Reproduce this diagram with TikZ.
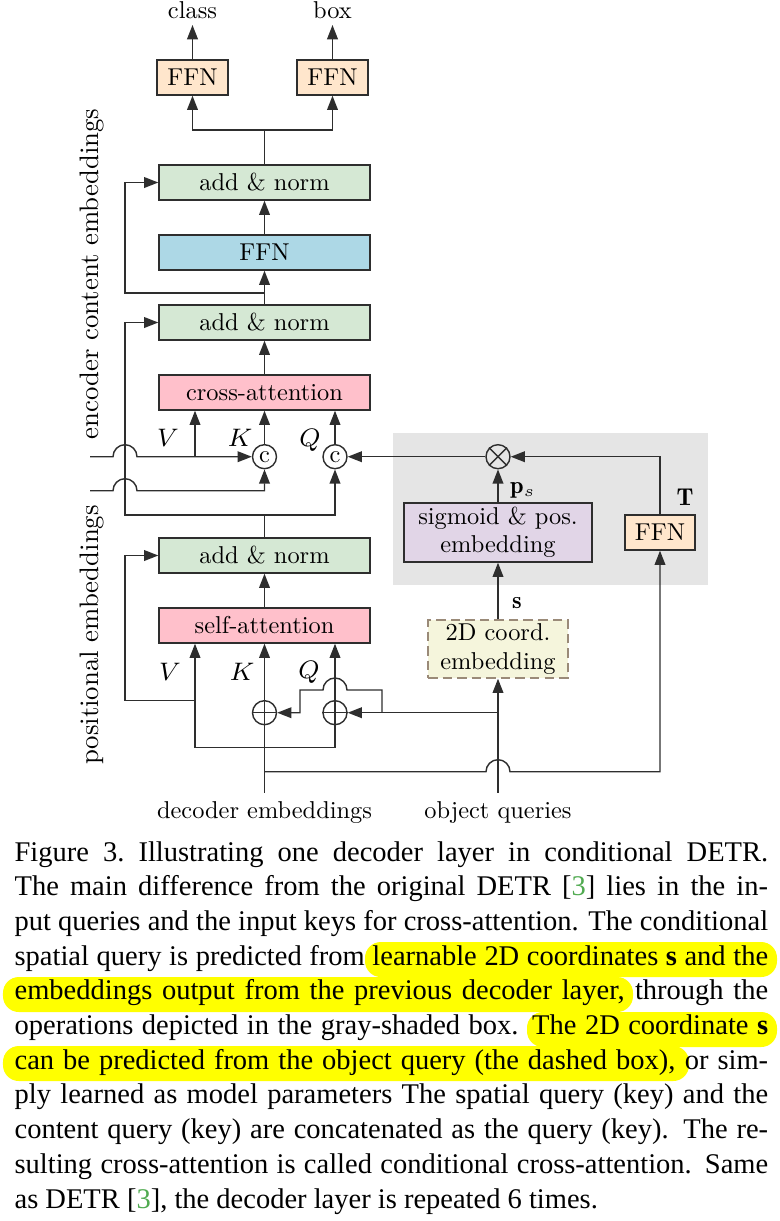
\documentclass[tikz,border=0pt]{standalone}
\usepackage{fontspec}
\newfontfamily\capfont{Liberation Serif}
\newfontfamily\lmten{lmroman10-regular.otf}
\usetikzlibrary{arrows.meta}
\definecolor{cpeach}{HTML}{FFE6CC}
\definecolor{cgreen}{HTML}{D5E8D4}
\definecolor{cblue}{HTML}{ADD8E6}
\definecolor{cpink}{HTML}{FFC0CB}
\definecolor{clav}{HTML}{E1D5E7}
\definecolor{cbeige}{HTML}{F5F5DC}
\definecolor{cdash}{HTML}{9A8A78}
\definecolor{graybg}{HTML}{E5E5E5}
\definecolor{hl}{HTML}{FFFF00}
\definecolor{citeg}{RGB}{80,170,80}
\definecolor{lncol}{HTML}{2E2E2E}
\newcommand\dgmfont{\lmten\fontsize{7.7}{9}\selectfont}
\newcommand\rotfont{\lmten\fontsize{8.45}{10}\selectfont}
\def\pxu{0.3158pt}
\def\capw{237.96pt}
\begin{document}
\begin{tikzpicture}[x=0.3158pt,y=-0.3158pt,
  box/.style={draw=lncol, line width=0.45pt, inner sep=0pt, minimum height=35*\pxu, font=\dgmfont},
  wide/.style={box, minimum width=211*\pxu},
  lbl/.style={inner sep=1pt, font=\dgmfont},
  ln/.style={draw=lncol, line width=0.45pt},
  arr/.style={ln, -{Triangle[length=4.5pt,width=3.4pt]}},
  op/.style={circle, draw=lncol, line width=0.45pt, minimum size=24*\pxu, inner sep=0pt, font=\dgmfont},
  capl/.style={anchor=base west, inner sep=0pt, font=\capfont\fontsize{9}{11}\selectfont},
  hlbox/.style={fill=hl, rounded corners=5pt}
]
\useasboundingbox (0,0) rectangle (780,1221);
% gray shaded region
\fill[graybg] (393,433) rectangle (708,585);
% caption highlights
\fill[hlbox] (365,942) rectangle (777,977);
\fill[hlbox] (3,977) rectangle (633,1012);
\fill[hlbox] (527,1012) rectangle (777,1047);
\fill[hlbox] (3,1046) rectangle (689,1081);

% boxes
\node[box, fill=cpeach, minimum width=71*\pxu] (ffnC) at (192.5,77.5) {FFN};
\node[box, fill=cpeach, minimum width=71*\pxu] (ffnB) at (332.5,77.5) {FFN};
\node[lbl, anchor=south, inner ysep=1.9pt] (cls) at (192.5,25) {class};
\node[lbl, anchor=south, inner ysep=1.9pt] (bx) at (332.5,25) {box};
\node[wide, fill=cgreen] (an1) at (264.5,182.5) {add \& norm};
\node[wide, fill=cblue] (ffn) at (264.5,252.5) {FFN};
\node[wide, fill=cgreen] (an2) at (264.5,322.5) {add \& norm};
\node[wide, fill=cpink] (ca) at (264.5,392.5) {cross-attention};
\node[wide, fill=cgreen] (an3) at (264.5,555.5) {add \& norm};
\node[wide, fill=cpink] (sa) at (264.5,625.5) {self-attention};
\node[box, fill=clav, minimum width=188*\pxu, minimum height=59*\pxu, align=center] (sig) at (498,532.5) {sigmoid \& pos.\\embedding};
\node[box, fill=cpeach, minimum width=70*\pxu] (ffnT) at (660,532.5) {FFN};
\node[box, fill=cbeige, draw=cdash, dash pattern=on 3pt off 1.6pt, minimum width=140*\pxu, minimum height=58*\pxu, align=center] (crd) at (498,649) {2D coord.\\embedding};

% operators
\node[op] (cK) at (264.5,456.7) {c};
\node[op] (cQ) at (335,456.7) {c};
\node[op] (ot) at (498,456.7) {};
\node[op] (pK) at (264.5,712.7) {};
\node[op] (pQ) at (335,712.7) {};
\draw[ln] (ot.north west) -- (ot.south east) (ot.north east) -- (ot.south west);
\draw[ln] (pK.north) -- (pK.south) (pK.west) -- (pK.east);
\draw[ln] (pQ.north) -- (pQ.south) (pQ.west) -- (pQ.east);

% labels
\node[lbl] (lV1) at (168,438) {$V$};
\node[lbl] (lK1) at (240,438) {$K$};
\node[lbl] (lQ1) at (310,440) {$Q$};
\node[lbl] (lV2) at (170,672) {$V$};
\node[lbl] (lK2) at (242,672) {$K$};
\node[lbl] (lQ2) at (309,672) {$Q$};
\node[lbl] (lps) at (523,490) {$\mathbf{p}_s$};
\node[lbl] (lT) at (685,497) {$\mathbf{T}$};
\node[lbl] (ls) at (517,603) {$\mathbf{s}$};
\node[inner sep=0pt, font=\rotfont, rotate=90, anchor=base] (enc) at (98,274) {encoder content embeddings};
\node[inner sep=0pt, font=\rotfont, rotate=90, anchor=base] (pos) at (98,635) {positional embeddings};
\node[lbl, anchor=base, inner sep=2.5pt] (dec) at (264.5,818) {decoder embeddings};
\node[lbl, anchor=base, inner sep=2.5pt] (oq) at (498,818) {object queries};

% coordinates
\coordinate (xl) at (125,0);
\coordinate (vx) at (195,0);
\coordinate (jt) at (264.5,130);
\coordinate (r1) at (264.5,293);
\coordinate (jq) at (264.5,515);
\coordinate (vin) at (90,456.7);
\coordinate (kin) at (90,490.7);
\coordinate (rv) at (195,700.7);
\coordinate (jd) at (264.5,747.7);
\coordinate (jT) at (264.5,771.7);
\coordinate (jo) at (498,712.7);

% connectors
\draw[arr] (ffnC.north) -- (cls.south);
\draw[arr] (ffnB.north) -- (bx.south);
\draw[ln] (an1.north) -- (jt);
\draw[arr] (jt) -| (ffnC.south);
\draw[arr] (jt) -| (ffnB.south);
\draw[arr] (ffn.north) -- (an1.south);
\draw[arr] (an2.north) -- (ffn.south);
\draw[arr] (r1) -- (r1 -| xl) |- (an1.west);
\draw[arr] (ca.north) -- (an2.south);
\draw[arr] (cK.north) -- (cK |- ca.south);
\draw[arr] (cQ.north) -- (cQ |- ca.south);
\draw[arr] (vin) -- ++(23,0) arc[start angle=180,end angle=360,radius=12] -- (cK.west);
\draw[arr] (vin -| vx) -- (vx |- ca.south);
\draw[arr] (kin) -- ++(23,0) arc[start angle=180,end angle=360,radius=12] -- (kin -| cK) -- (cK.south);
\draw[ln] (an3.north) -- (jq);
\draw[arr] (jq) -| (cQ.south);
\draw[arr] (jq) -- (jq -| xl) |- (an2.west);
\draw[arr] (ot.west) -- (cQ.east);
\draw[arr] (ffnT.north) |- (ot.east);
\draw[arr] (sig.north) -- (ot.south);
\draw[arr] (crd.north) -- (sig.south);
\draw[arr] (sa.north) -- (an3.south);
\draw[arr] (pK.north) -- (pK |- sa.south);
\draw[arr] (pQ.north) -- (pQ |- sa.south);
\draw[ln] (dec.north) -- (pK.south);
\draw[arr] (pQ.south) -- (pQ |- jd) -- (jd -| vx) -- (vx |- sa.south);
\draw[arr] (rv) -- (rv -| xl) |- (an3.west);
\draw[arr] (jT) -- (486,771.7) arc[start angle=180,end angle=360,radius=12] -| (ffnT.south);
\draw[arr] (oq.north) -- (crd.south);
\draw[arr] (jo) -- (pQ.east);
\draw[arr] (382,712.7) -- (382,690) -- (347,690) arc[start angle=0,end angle=-180,radius=12] -- (300,690) -- (300,712.7) -- (pK.east);

% caption
\node[capl] (c1) at (14,861) {\frenchspacing\makebox[\capw][s]{Figure 3. Illustrating one decoder layer in conditional DETR.}};
\node[capl] (c2) at (14,895.7) {\makebox[\capw][s]{The main difference from the original DETR [\textcolor{citeg}{3}] lies in the in-}};
\node[capl] (c3) at (14,930.4) {\makebox[\capw][s]{put queries and the input keys for cross-attention. The conditional}};
\node[capl] (c4) at (14,965.1) {\makebox[\capw][s]{spatial query is predicted from learnable 2D coordinates \textbf{s} and the}};
\node[capl] (c5) at (14,999.8) {\makebox[\capw][s]{embeddings output from the previous decoder layer, through the}};
\node[capl] (c6) at (14,1034.5) {\makebox[\capw][s]{operations depicted in the gray-shaded box. The 2D coordinate \textbf{s}}};
\node[capl] (c7) at (14,1069.2) {\makebox[\capw][s]{can be predicted from the object query (the dashed box), or sim-}};
\node[capl] (c8) at (14,1103.9) {\makebox[\capw][s]{ply learned as model parameters The spatial query (key) and the}};
\node[capl] (c9) at (14,1138.6) {\makebox[\capw][s]{content query (key) are concatenated as the query (key). The re-}};
\node[capl] (c10) at (14,1173.3) {\makebox[\capw][s]{sulting cross-attention is called conditional cross-attention. Same}};
\node[capl] (c11) at (14,1208) {as DETR [\textcolor{citeg}{3}], the decoder layer is repeated 6 times.};
\end{tikzpicture}
\end{document}
